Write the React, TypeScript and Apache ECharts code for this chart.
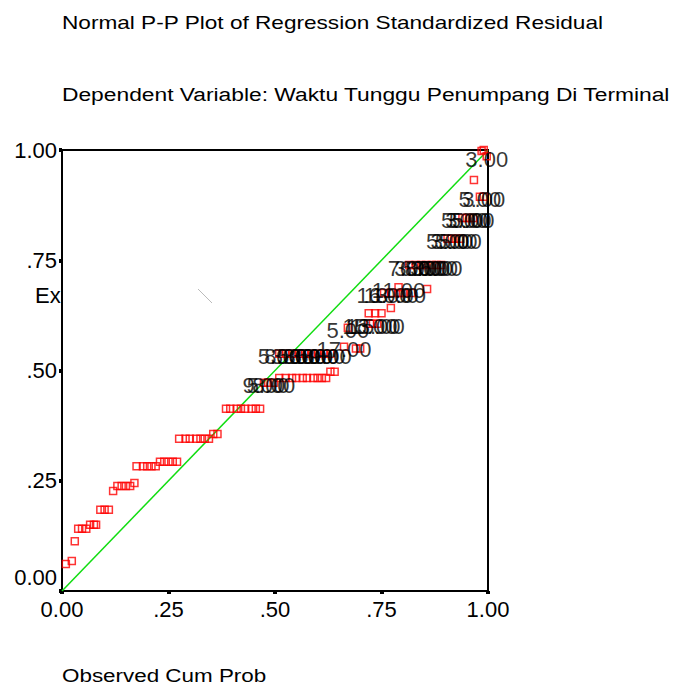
import React, { useEffect, useRef } from "react";
import * as echarts from "echarts";

// Unlabeled cases: observed cum prob (x) and expected cum prob (y)
const observedCumProb = [
  0.009, 0.023, 0.03,
  0.038, 0.047, 0.057,
  0.066, 0.075, 0.08,
  0.09, 0.1, 0.11,
  0.12,
  0.13, 0.14, 0.15, 0.16,
  0.17,
  0.175, 0.19, 0.2, 0.21, 0.22,
  0.23, 0.24, 0.25, 0.26, 0.27,
  0.275, 0.29, 0.3, 0.315, 0.325, 0.335, 0.345,
  0.355, 0.365,
  0.385, 0.395, 0.41, 0.42, 0.43, 0.445, 0.455, 0.465,
  0.51, 0.525, 0.54, 0.55, 0.565, 0.575, 0.59, 0.6, 0.61, 0.62,
  0.63, 0.64,
  0.69, 0.7,
  0.72, 0.735, 0.75, 0.772,
  0.8, 0.82, 0.857,
  0.967,
  0.985, 0.99,
];
const expectedCumProb = [
  0.061, 0.068, 0.113,
  0.141, 0.141, 0.141,
  0.15, 0.15, 0.15,
  0.184, 0.184, 0.184,
  0.227,
  0.238, 0.238, 0.238, 0.238,
  0.245,
  0.283, 0.283, 0.283, 0.283, 0.283,
  0.293, 0.293, 0.293, 0.293, 0.293,
  0.345, 0.345, 0.345, 0.345, 0.345, 0.345, 0.345,
  0.356, 0.356,
  0.413, 0.413, 0.413, 0.413, 0.413, 0.413, 0.413, 0.413,
  0.483, 0.483, 0.483, 0.483, 0.483, 0.483, 0.483, 0.483, 0.483, 0.483,
  0.497, 0.497,
  0.55, 0.55,
  0.63, 0.63, 0.63, 0.642,
  0.676, 0.676, 0.685,
  0.932,
  0.998, 1.0,
];

// Labeled cases
const labeledObserved = [
  0.997,
  0.981, 0.99,
  0.94, 0.95, 0.958, 0.965,
  0.905, 0.915, 0.925, 0.935,
  0.815, 0.83, 0.843, 0.855, 0.868, 0.879, 0.89,
  0.756, 0.773, 0.79, 0.79,
  0.671, 0.723, 0.73, 0.74,
  0.662,
  0.51, 0.525, 0.54, 0.555, 0.57, 0.585, 0.6, 0.615, 0.63,
  0.474, 0.484, 0.497,
];
const labeledExpected = [
  0.986,
  0.894, 0.894,
  0.846, 0.846, 0.846, 0.846,
  0.799, 0.799, 0.799, 0.799,
  0.739, 0.739, 0.739, 0.739, 0.739, 0.739, 0.739,
  0.676, 0.676, 0.676, 0.689,
  0.597, 0.606, 0.606, 0.606,
  0.554,
  0.538, 0.538, 0.538, 0.538, 0.538, 0.538, 0.538, 0.538, 0.538,
  0.472, 0.472, 0.472,
];
const caseLabels = [
  "3.00",
  "5.00", "3.00",
  "5.00", "3.00", "5.00", "5.00",
  "5.00", "3.00", "5.00", "5.00",
  "7.00", "3.00", "6.00", "8.00", "3.00", "7.00", "5.00",
  "16.00", "13.00", "10.00", "11.00",
  "5.00", "15.00", "13.00", "15.00",
  "17.00",
  "5.00", "8.00", "3.00", "5.00", "8.00", "3.00", "5.00", "8.00", "9.00",
  "9.00", "5.00", "8.00",
];

const tickValues = [0, 0.25, 0.5, 0.75, 1];
const tickLabels = ["0.00", ".25", ".50", ".75", "1.00"];
const refLine = [0, 1];

const FONT = "'Liberation Sans', Arial, sans-serif";

function tickFmt(v: number) {
  const i = tickValues.findIndex((t) => Math.abs(t - v) < 1e-9);
  return i >= 0 ? tickLabels[i] : "";
}
function yTickFmt(v: number) {
  const s = tickFmt(v);
  return Math.abs(v) < 1e-9 ? `{low|${s}}` : s;
}

export default function App() {
  const ref = useRef<HTMLDivElement>(null);
  useEffect(() => {
    if (!ref.current) return;
    const chart = echarts.init(ref.current, null, { renderer: "svg" });
    const axisCommon = {
      type: "value" as const,
      min: 0,
      max: 1,
      interval: 0.25,
      splitLine: { show: false },
      axisLine: { show: true, onZero: false, lineStyle: { color: "#000", width: 2 } },
      axisTick: { show: true, length: 3, lineStyle: { color: "#000", width: 4 } },
    };
    const labelStyle = { color: "#000", fontFamily: FONT, fontSize: 22 };
    chart.setOption({
      animation: false,
      backgroundColor: "#fff",
      grid: {
        left: 62,
        top: 150,
        width: 426,
        height: 441,
        show: true,
        borderColor: "#000",
        borderWidth: 2,
        backgroundColor: "transparent",
      },
      xAxis: {
        ...axisCommon,
        axisLabel: { ...labelStyle, margin: 7, formatter: tickFmt },
      },
      yAxis: {
        ...axisCommon,
        axisLabel: {
          ...labelStyle,
          margin: 5,
          formatter: yTickFmt,
          rich: {
            low: { ...labelStyle, padding: [0, 0, 28, 0] },
          },
        },
      },
      graphic: [
        {
          type: "text",
          x: 62,
          y: 22,
          scaleX: 1.19,
          style: {
            text: "Normal P-P Plot of Regression Standardized Residual",
            font: `19px ${FONT}`,
            fill: "#000",
            textVerticalAlign: "middle",
          },
        },
        {
          type: "text",
          x: 62,
          y: 94,
          scaleX: 1.2,
          style: {
            text: "Dependent Variable: Waktu Tunggu Penumpang Di Terminal",
            font: `19px ${FONT}`,
            fill: "#000",
            textVerticalAlign: "middle",
          },
        },
        {
          type: "text",
          x: 62,
          y: 675,
          scaleX: 1.18,
          style: {
            text: "Observed Cum Prob",
            font: `19px ${FONT}`,
            lineHeight: 16,
            fill: "#000",
            textVerticalAlign: "middle",
          },
        },
        {
          type: "text",
          x: 35,
          y: 295,
          z: -1,
          style: {
            text: "Ex",
            font: `22px ${FONT}`,
            fill: "#000",
            textVerticalAlign: "middle",
          },
        },
        {
          type: "line",
          shape: { x1: 198, y1: 289, x2: 212, y2: 303 },
          style: { stroke: "#bbbbbb", lineWidth: 1 },
        },
      ],
      series: [
        {
          type: "line",
          data: refLine.map((v) => [v, v]),
          symbol: "none",
          lineStyle: { color: "#11dd11", width: 1.5 },
          z: 1,
        },
        {
          type: "scatter",
          data: observedCumProb.map((x, i) => [x, expectedCumProb[i]]),
          symbol: "rect",
          symbolSize: 7,
          itemStyle: { color: "rgba(0,0,0,0)", borderColor: "#ff0000", borderWidth: 1.5 },
          z: 3,
        },
        {
          type: "scatter",
          data: labeledObserved.map((x, i) => [x, labeledExpected[i], caseLabels[i]]),
          symbol: "rect",
          symbolSize: 7,
          itemStyle: { color: "rgba(0,0,0,0)", borderColor: "#ff0000", borderWidth: 1.5 },
          label: {
            show: true,
            position: "inside",
            offset: [0, 3],
            color: "#000",
            fontFamily: FONT,
            fontSize: 22,
            formatter: (p: any) => p.value[2],
          },
          z: 4,
        },
      ],
    });
    return () => chart.dispose();
  }, []);
  return (
    <div
      ref={ref}
      style={{ position: "fixed", left: 0, top: 0, width: 673, height: 684 }}
    />
  );
}
